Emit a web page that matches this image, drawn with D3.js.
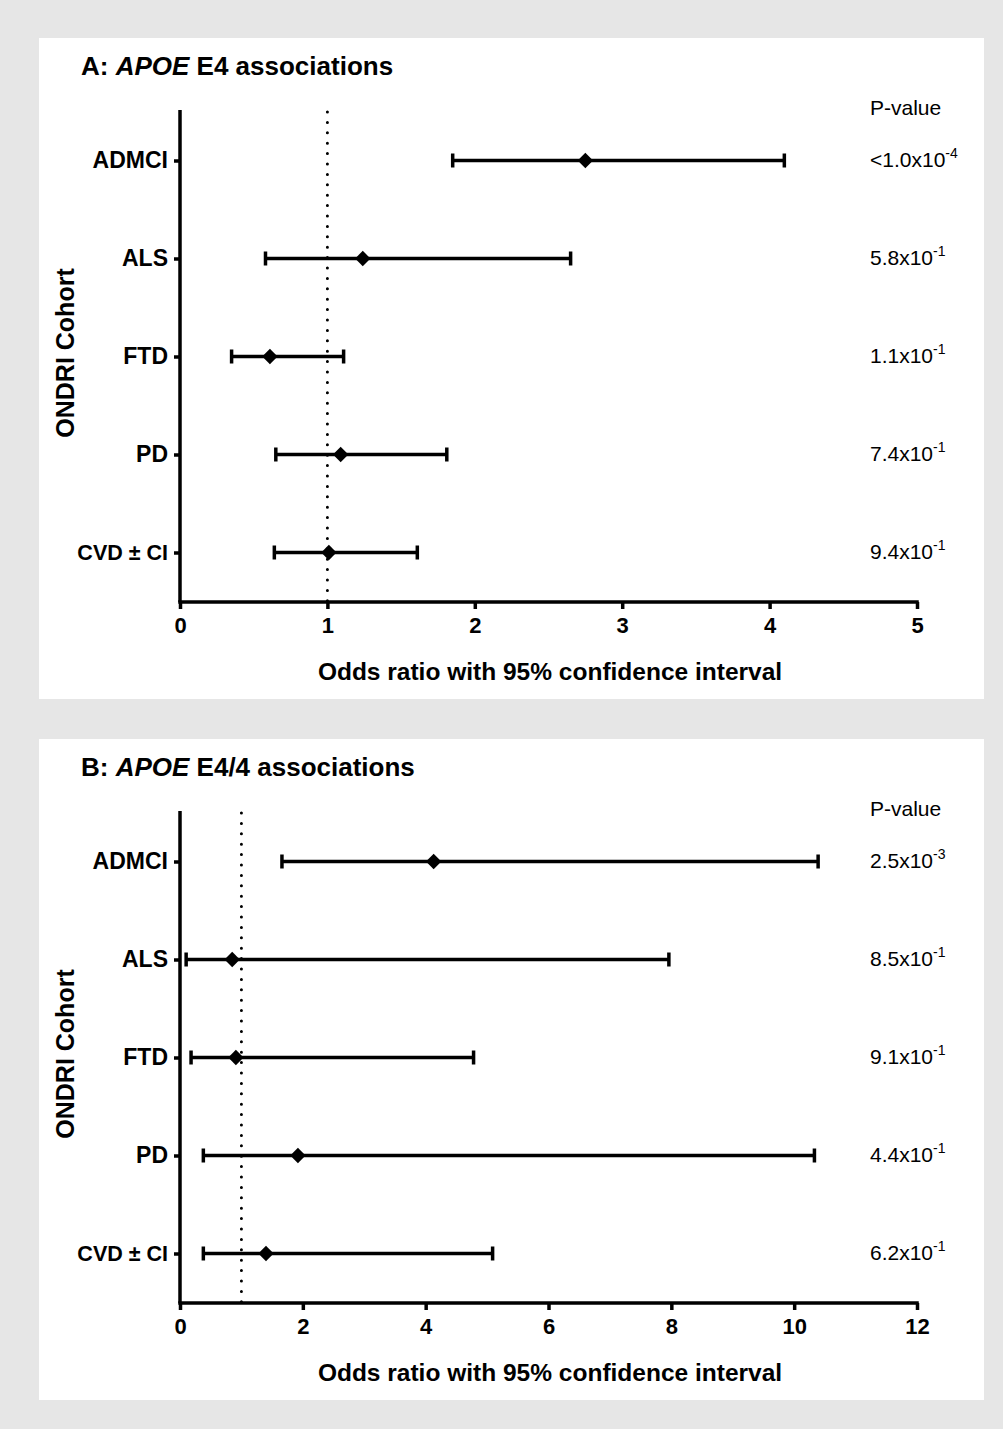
<!DOCTYPE html>
<html lang="en">
<head>
    <meta charset="UTF-8">
    <title>APOE forest plots</title>
    <script src="https://d3js.org/d3.v7.min.js"></script>
    <style>
        body { margin: 0; background: #e6e6e6; }
        text { font-family: "Liberation Sans", Arial, sans-serif; fill: #000; }
    </style>
</head>
<body>
<script>
    const width  = 1003;
    const height = 1429;

    const cohorts = ["ADMCI", "ALS", "FTD", "PD", "CVD \u00b1 CI"];

    // panel A: APOE E4
    const e4Or    = [2.75, 1.24, 0.61, 1.09, 1.01];
    const e4Lo    = [1.85, 0.58, 0.35, 0.65, 0.64];
    const e4Hi    = [4.10, 2.65, 1.11, 1.81, 1.61];
    const e4PMant = ["<1.0x10", "5.8x10", "1.1x10", "7.4x10", "9.4x10"];
    const e4PExp  = ["-4", "-1", "-1", "-1", "-1"];
    const e4Ticks = [0, 1, 2, 3, 4, 5];

    // panel B: APOE E4/4
    const e44Or    = [4.13, 0.85, 0.91, 1.92, 1.40];
    const e44Lo    = [1.66, 0.10, 0.18, 0.38, 0.38];
    const e44Hi    = [10.39, 7.96, 4.78, 10.33, 5.09];
    const e44PMant = ["2.5x10", "8.5x10", "9.1x10", "4.4x10", "6.2x10"];
    const e44PExp  = ["-3", "-1", "-1", "-1", "-1"];
    const e44Ticks = [0, 2, 4, 6, 8, 10, 12];

    const svg = d3.select("body").append("svg")
        .attr("width", width).attr("height", height);

    svg.append("rect").attr("width", width).attr("height", height).attr("fill", "#e6e6e6");

    function drawPanel(top, label, genotype, or, lo, hi, pMant, pExp, ticks) {
        const g = svg.append("g").attr("transform", `translate(39,${top})`);
        g.append("rect").attr("width", 945).attr("height", 661).attr("fill", "#fff");

        const left = 141, plotTop = 72, plotW = 737, plotH = 492;

        // title
        const t = g.append("text").attr("x", 42).attr("y", 37)
            .attr("font-size", 26).attr("font-weight", "bold");
        t.append("tspan").text(label + ": ");
        t.append("tspan").attr("font-style", "italic").text("APOE");
        t.append("tspan").text(" " + genotype + " associations");

        const x = d3.scaleLinear().domain(d3.extent(ticks)).range([left, left + plotW]);
        const y = d3.scalePoint().domain(cohorts).range([122.5, 514.5]);

        // reference line at OR = 1
        g.append("line")
            .attr("x1", x(1)).attr("x2", x(1))
            .attr("y1", plotTop + 2).attr("y2", plotTop + plotH)
            .attr("stroke", "#000").attr("stroke-width", 3)
            .attr("stroke-dasharray", "0 10.4").attr("stroke-linecap", "round");

        const xAxis = g.append("g").attr("transform", `translate(0,${plotTop + plotH})`)
            .call(d3.axisBottom(x).tickValues(ticks).tickFormat(d3.format("d"))
                .tickSize(7).tickPadding(8).tickSizeOuter(0));
        const yAxis = g.append("g").attr("transform", `translate(${left},0)`)
            .call(d3.axisLeft(y).tickSize(6).tickPadding(6).tickSizeOuter(0));

        [xAxis, yAxis].forEach(a => {
            a.attr("font-size", null).attr("font-family", null);
            a.selectAll("path, line").attr("stroke", "#000").attr("stroke-width", 3.5);
            a.selectAll("text").attr("font-weight", "bold");
        });
        xAxis.selectAll("text").attr("font-size", 22);
        xAxis.select(".domain").attr("d", `M${left - 1.75},0H${left + plotW + 1.75}`);
        yAxis.select(".domain").attr("d", `M0,${plotTop}V${plotTop + plotH}`);
        yAxis.selectAll(".tick text").attr("font-size", 23);
        yAxis.selectAll(".tick text").filter(d => d.indexOf("\u00b1") >= 0)
            .attr("font-family", "'Open Sans', sans-serif").attr("font-size", 21.5);

        // error bars
        const rows = cohorts.map((c, i) => ({c, or: or[i], lo: lo[i], hi: hi[i]}));
        const bars = g.append("g").selectAll("g").data(rows).join("g")
            .attr("transform", d => `translate(0,${y(d.c)})`);
        bars.append("line")
            .attr("x1", d => x(d.lo)).attr("x2", d => x(d.hi))
            .attr("stroke", "#000").attr("stroke-width", 3.5);
        bars.selectAll(".cap").data(d => [d.lo, d.hi]).join("line")
            .attr("x1", v => x(v)).attr("x2", v => x(v))
            .attr("y1", -7).attr("y2", 7)
            .attr("stroke", "#000").attr("stroke-width", 3.5);
        bars.append("path")
            .attr("d", d3.symbol(d3.symbolDiamond2, 150))
            .attr("transform", d => `translate(${x(d.or)},0)`)
            .attr("fill", "#000");

        // p-values
        g.append("text").attr("x", 831).attr("y", 77).attr("font-size", 21).text("P-value");
        const pv = g.append("g").selectAll("text").data(rows).join("text")
            .attr("x", 831).attr("y", d => y(d.c) + 6).attr("font-size", 21);
        pv.append("tspan").text((d, i) => pMant[i]);
        pv.append("tspan").attr("dy", -9).attr("font-size", 14).text((d, i) => pExp[i]);

        // axis titles
        g.append("text")
            .attr("transform", `translate(35,${plotTop + plotH / 2 - 3}) rotate(-90)`)
            .attr("text-anchor", "middle").attr("font-size", 25).attr("font-weight", "bold")
            .text("ONDRI Cohort");
        g.append("text")
            .attr("x", 511).attr("y", 642)
            .attr("text-anchor", "middle").attr("font-size", 24.5).attr("font-weight", "bold")
            .text("Odds ratio with 95% confidence interval");
    }

    drawPanel(38,  "A", "E4",   e4Or,  e4Lo,  e4Hi,  e4PMant,  e4PExp,  e4Ticks);
    drawPanel(739, "B", "E4/4", e44Or, e44Lo, e44Hi, e44PMant, e44PExp, e44Ticks);
</script>
</body>
</html>
